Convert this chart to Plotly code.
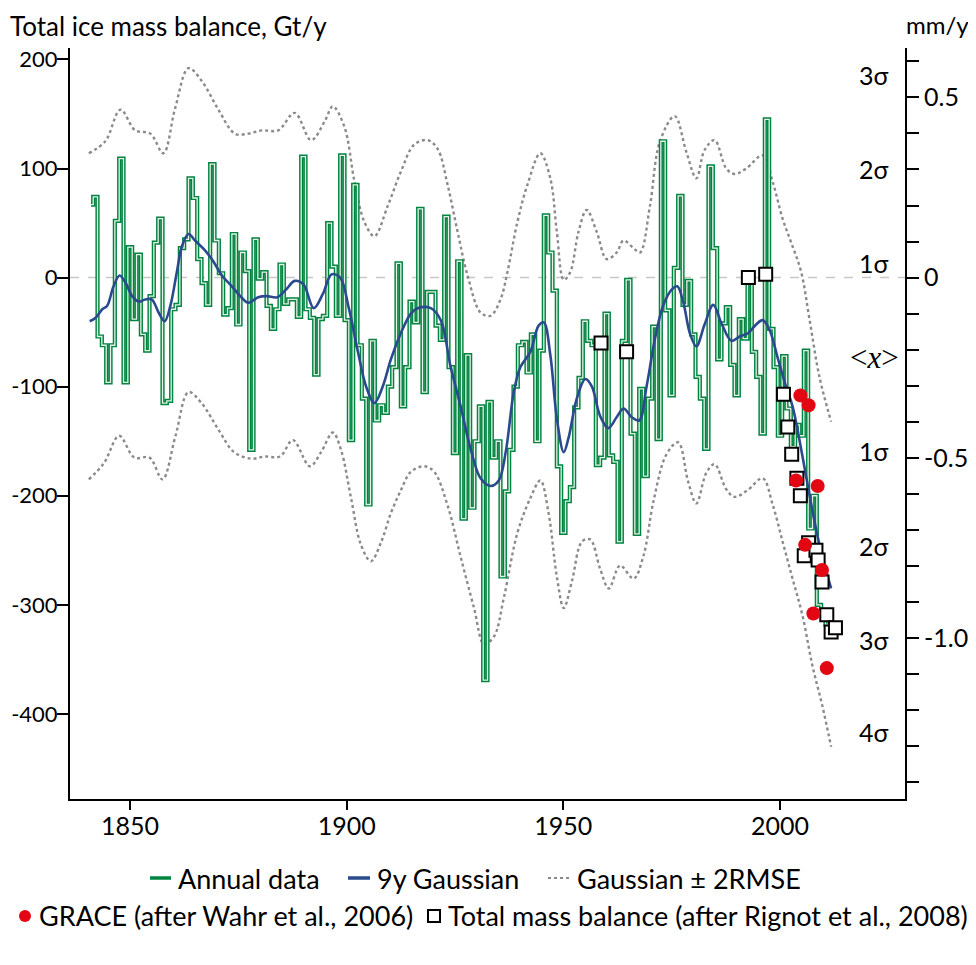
import plotly.graph_objects as go

# annual ice mass balance, Gt/y, one value per year 1841-2011
years = list(range(1841, 2012))
annual = [
    67, 74, -54, -62, -96, -62, 52, 109, -96, 28,
    -38, 21, -52, -67, -17, 32, 54, -115, -113, -29,
    -25, 27, 35, 91, 73, 17, -5, -25, 104, 34,
    4, -34, -28, 40, -43, 23, 6, -158, 35, -1,
    5, -26, -47, -29, 12, -24, -20, -20, -36, 111,
    -29, -37, -89, -38, -35, 50, 10, -35, 112, -39,
    -149, 85, -62, -111, -208, -58, -131, -117, -124, -100,
    -82, 13, -118, -82, -22, -41, 63, -105, -13, -13,
    -44, -57, 56, -82, -161, 15, -221, -71, -211, -150,
    -118, -369, -114, -165, -150, -274, -196, -158, -100, -62,
    -59, -87, -52, -150, -67, 57, 23, -12, -173, -234,
    -205, -192, -119, -92, -40, -58, -62, -172, -165, -33,
    -163, -169, -242, -58, -2, -143, -235, -102, -182, -111,
    -45, -148, 125, -30, -108, 9, 75, -25, -3, -52,
    -91, -111, -157, 102, 27, -75, -42, -27, -80, -108,
    -38, -56, 5, -68, -91, -143, 145, -47, -82, -145,
    -72, -120, -155, -135, -145, -67, -230, -200, -300, -305, -318,
]

# 9 year gaussian smooth
gauss_years = [1840.7, 1842.0, 1843.6, 1844.7, 1846.2, 1847.6, 1849.0, 1850.5, 1852.0, 1853.5,
               1855.0, 1856.6, 1858.0, 1859.3, 1860.8, 1862.0, 1863.5, 1865.0, 1867.3, 1869.2,
               1871.2, 1873.5, 1875.7, 1877.3, 1879.6, 1881.5, 1884.0, 1886.0, 1888.0, 1890.0,
               1892.4, 1894.5, 1896.5, 1898.5, 1900.5, 1902.6, 1904.5, 1906.4, 1908.3, 1910.2,
               1912.5, 1914.8, 1916.4, 1919.4, 1921.7, 1924.0, 1926.3, 1928.6, 1930.9, 1933.2,
               1935.1, 1936.7, 1938.6, 1940.1, 1942.4, 1944.3, 1945.5, 1947.0, 1948.5, 1950.1,
               1951.2, 1953.1, 1955.1, 1956.6, 1958.5, 1960.4, 1962.3, 1963.9, 1965.8, 1967.5,
               1969.2, 1971.1, 1973.0, 1975.0, 1976.3, 1977.7, 1979.2, 1980.7, 1982.6, 1984.6,
               1986.5, 1988.8, 1990.7, 1992.6, 1994.5, 1996.0, 1997.6, 1999.5, 2001.4, 2002.9,
               2004.5, 2006.8, 2008.3, 2009.9, 2011.8]
gauss = [-40, -37, -29, -26, -8, 2, -5, -17, -22, -20,
         -20, -32, -40, -26, 5, 29, 40, 34, 25, 15,
         2, -8, -18, -23, -18, -17, -18, -11, -3, -6,
         -28, -15, 3, 0, -28, -68, -100, -115, -100, -75,
         -51, -33, -28, -28, -39, -82, -118, -157, -184, -191,
         -186, -160, -104, -82, -68, -44, -41, -71, -129, -160,
         -147, -111, -93, -100, -127, -138, -128, -120, -128, -131,
         -100, -57, -26, -11, -8, -23, -51, -63, -43, -25,
         -42, -58, -54, -51, -43, -39, -48, -74, -100, -118,
         -149, -199, -230, -258, -285]

# gaussian +/- 2 RMSE bands
upper_years = [1840.5, 1844.3, 1847.8, 1851.2, 1854.7, 1857.7, 1860.4, 1863.5, 1866.6, 1870.4,
               1874.2, 1877.3, 1880.4, 1884.2, 1888.0, 1891.8, 1894.9, 1896.8, 1899.5, 1901.8,
               1904.1, 1906.4, 1909.5, 1912.5, 1915.6, 1918.7, 1921.0, 1923.3, 1925.6, 1927.9,
               1930.9, 1933.2, 1935.5, 1937.1, 1939.4, 1941.7, 1944.7, 1947.0, 1948.5, 1950.1,
               1951.6, 1953.5, 1955.4, 1957.7, 1960.0, 1962.3, 1963.9, 1966.2, 1967.7, 1970.0,
               1972.3, 1975.7, 1978.4, 1980.7, 1982.6, 1984.9, 1987.6, 1989.5, 1992.2, 1996.0,
               1998.3, 2000.6, 2002.6, 2004.9, 2006.8, 2009.1, 2011.8]
upper = [114, 125, 154, 135, 132, 114, 155, 192, 180, 154,
         132, 132, 135, 135, 151, 126, 143, 157, 138, 88,
         51, 38, 66, 97, 122, 126, 118, 85, 42, 2,
         -32, -35, -20, 5, 51, 85, 114, 91, 42, -2,
         5, 42, 62, 42, 17, 23, 34, 27, 23, 66,
         125, 148, 115, 91, 117, 126, 100, 95, 100, 112,
         88, 54, 32, 5, -38, -91, -132]

lower_years = [1840.5, 1844.0, 1847.5, 1851.0, 1854.5, 1857.5, 1860.5, 1863.5, 1866.5, 1870.5,
               1874.0, 1878.0, 1881.1, 1884.6, 1887.6, 1891.5, 1894.1, 1896.8, 1898.7, 1901.0,
               1903.3, 1905.6, 1908.0, 1910.2, 1912.5, 1914.8, 1917.9, 1920.2, 1923.3, 1926.3,
               1929.4, 1931.7, 1934.0, 1936.3, 1939.4, 1942.4, 1944.7, 1946.6, 1948.5, 1950.1,
               1952.0, 1954.3, 1956.2, 1958.5, 1960.5, 1963.1, 1966.2, 1968.5, 1970.8, 1973.8,
               1976.5, 1978.8, 1980.7, 1983.0, 1984.9, 1987.6, 1989.5, 1992.5, 1996.0, 1998.3,
               2000.6, 2002.9, 2005.2, 2007.5, 2009.8, 2011.8]
lower = [-185, -170, -145, -165, -165, -185, -145, -105, -115, -140,
         -160, -166, -164, -164, -149, -173, -160, -142, -158, -202,
         -245, -260, -242, -216, -195, -178, -173, -178, -209, -256,
         -303, -336, -329, -293, -234, -202, -186, -216, -274, -303,
         -278, -242, -240, -267, -285, -264, -276, -255, -205, -162,
         -151, -187, -207, -179, -171, -194, -201, -195, -184, -208,
         -242, -276, -310, -356, -393, -430]

# GRACE (Wahr et al., 2006)
grace_years = [2003.7, 2004.7, 2005.8, 2006.6, 2007.7, 2008.7, 2009.7, 2010.8]
grace = [-186, -108, -245, -117, -308, -191, -268, -358]

# total mass balance (Rignot et al., 2008)
rignot_years = [1958.7, 1964.6, 1992.7, 1996.7, 2000.8, 2001.8, 2002.7, 2003.9, 2004.7,
                2005.6, 2006.6, 2008.3, 2008.8, 2009.7, 2010.8, 2011.8, 2012.8]
rignot = [-60, -68, 0, 3, -107, -137, -162, -184, -200,
          -255, -243, -250, -259, -279, -309, -325, -321]

# sigma labels on the right side
sigma_labels = ["3σ", "2σ", "1σ", "&lt;<i>x</i>&gt;", "1σ", "2σ", "3σ", "4σ"]
sigma_levels = [186, 100, 13, -73, -159, -246, -332, -417]

gt_ticks = [200, 100, 0, -100, -200, -300, -400]
gt_text = ["200", "100", "0", "-100", "-200", "-300", "-400"]

mm_ticks = [0.6, 0.5, 0.4, 0.3, 0.2, 0.1, 0.0, -0.1, -0.2, -0.3, -0.4, -0.5,
            -0.6, -0.7, -0.8, -0.9, -1.0, -1.1, -1.2, -1.3, -1.4]
mm_text = ["", "0.5", "", "", "", "", "0", "", "", "", "", "-0.5",
           "", "", "", "", "-1.0", "", "", "", ""]

GT_PER_MM = 330.5
yr = [-478, 210.5]

FONT = "Lato"
GREEN = "#00843f"
BLUE = "#2b4a8e"
GREY = "#8a8a8a"
RED = "#e30613"

# the page body adds an 8px margin, so the figure is 8px smaller than the window
W, H = 968, 957
ML, MR, MT, MB = 62, 71, 40, 166
PW, PH = W - ML - MR, H - MT - MB


def px(page_x):
    return (page_x - 8 - ML) / PW


def py(page_y):
    return (H - MB - (page_y - 8)) / PH


fig = go.Figure()

fig.add_trace(go.Scatter(x=upper_years, y=upper, mode="lines", line_shape="spline",
                         line=dict(color=GREY, width=2.4, dash="dot"),
                         name="Gaussian ± 2RMSE"))
fig.add_trace(go.Scatter(x=lower_years, y=lower, mode="lines", line_shape="spline",
                         line=dict(color=GREY, width=2.4, dash="dot"),
                         name="Gaussian - 2RMSE"))

fig.add_trace(go.Scatter(x=years, y=annual, mode="lines", line_shape="hvh",
                         line=dict(color=GREEN, width=4.2), name="Annual data"))
fig.add_trace(go.Scatter(x=years, y=annual, mode="lines", line_shape="hvh",
                         line=dict(color="#e6f2e9", width=1.3), hoverinfo="skip"))

fig.add_trace(go.Scatter(x=gauss_years, y=gauss, mode="lines", line_shape="spline",
                         line=dict(color=BLUE, width=2.6), name="9y Gaussian"))

fig.add_trace(go.Scatter(x=rignot_years, y=rignot, mode="markers",
                         marker=dict(symbol="square", size=13, color="white",
                                     line=dict(color="black", width=2)),
                         name="Total mass balance (after Rignot et al., 2008)"))
fig.add_trace(go.Scatter(x=grace_years, y=grace, mode="markers",
                         marker=dict(symbol="circle", size=14, color=RED),
                         name="GRACE (after Wahr et al., 2006)"))

# invisible trace so the right hand axis is drawn
fig.add_trace(go.Scatter(x=[1900], y=[0], yaxis="y2", mode="markers",
                         marker=dict(opacity=0), hoverinfo="skip"))

fig.add_shape(type="line", xref="paper", x0=0, x1=1, yref="y", y0=0, y1=0,
              line=dict(color="#c8c8c8", width=1.5, dash="dash"), layer="below")

for lab, lev in zip(sigma_labels, sigma_levels):
    serif = "<i>" in lab
    fig.add_annotation(text=lab, xref="paper", x=0.963, yref="y", y=lev,
                       showarrow=False, xanchor="center", yanchor="middle",
                       font=dict(family="Liberation Serif" if serif else FONT,
                                 size=31 if serif else 25, color="black"))

fig.add_annotation(text="Total ice mass balance, Gt/y", xref="paper", yref="paper",
                   x=px(8), y=py(8), xanchor="left", yanchor="top",
                   showarrow=False, font=dict(family=FONT, size=26, color="black"))
fig.add_annotation(text="mm/y", xref="paper", yref="paper",
                   x=px(971), y=py(8), xanchor="right", yanchor="top",
                   showarrow=False, font=dict(family=FONT, size=24, color="black"))

# hand drawn legend, two rows
leg_font = dict(family=FONT, size=27, color="black")
row1, row2 = py(878), py(916)
fig.add_shape(type="line", xref="paper", yref="paper", x0=px(150), x1=px(171),
              y0=row1, y1=row1, line=dict(color=GREEN, width=3.5))
fig.add_shape(type="line", xref="paper", yref="paper", x0=px(348), x1=px(370),
              y0=row1, y1=row1, line=dict(color=BLUE, width=3.5))
fig.add_shape(type="line", xref="paper", yref="paper", x0=px(548), x1=px(570),
              y0=row1, y1=row1, line=dict(color=GREY, width=2, dash="dot"))
fig.add_shape(type="circle", xref="paper", yref="paper", x0=px(19), x1=px(31),
              y0=py(922), y1=py(910), fillcolor=RED, line=dict(color=RED, width=0))
fig.add_shape(type="rect", xref="paper", yref="paper", x0=px(428), x1=px(440),
              y0=py(922), y1=py(910), fillcolor="white",
              line=dict(color="black", width=2))

legend_items = [("Annual data", 176, row1), ("9y Gaussian", 375, row1),
                ("Gaussian ± 2RMSE", 575, row1),
                ("GRACE (after Wahr et al., 2006)", 37, row2),
                ("Total mass balance (after Rignot et al., 2008)", 446, row2)]
for txt, xl, yy in legend_items:
    fig.add_annotation(text=txt, xref="paper", yref="paper", x=px(xl), y=yy,
                       xanchor="left", yanchor="middle", showarrow=False,
                       font=leg_font)

fig.update_layout(
    width=W, height=H, showlegend=False,
    margin=dict(l=ML, r=MR, t=MT, b=MB),
    paper_bgcolor="white", plot_bgcolor="white",
    font=dict(family=FONT, size=25, color="black"),
    xaxis=dict(range=[1836.15, 2028.85], tickvals=[1850, 1900, 1950, 2000],
               showgrid=False, zeroline=False, showline=True, linecolor="black",
               linewidth=2, ticks="outside", ticklen=9, tickwidth=1.5,
               tickcolor="black", ticklabelstandoff=-5, automargin=False),
    yaxis=dict(range=yr, tickvals=gt_ticks, ticktext=gt_text,
               tickfont=dict(size=22),
               showgrid=False, zeroline=False, showline=True, linecolor="black",
               linewidth=2, ticks="outside", ticklen=11, tickwidth=1.5,
               tickcolor="black", ticklabelstandoff=-5, automargin=False),
    yaxis2=dict(range=[yr[0] / GT_PER_MM, yr[1] / GT_PER_MM], overlaying="y",
                side="right", tickvals=mm_ticks, ticktext=mm_text,
                showgrid=False, zeroline=False, showline=True, linecolor="black",
                linewidth=2, ticks="outside", ticklen=12, tickwidth=1.5,
                tickcolor="black", ticklabelstandoff=0, automargin=False),
)

fig.write_html("out.html")
